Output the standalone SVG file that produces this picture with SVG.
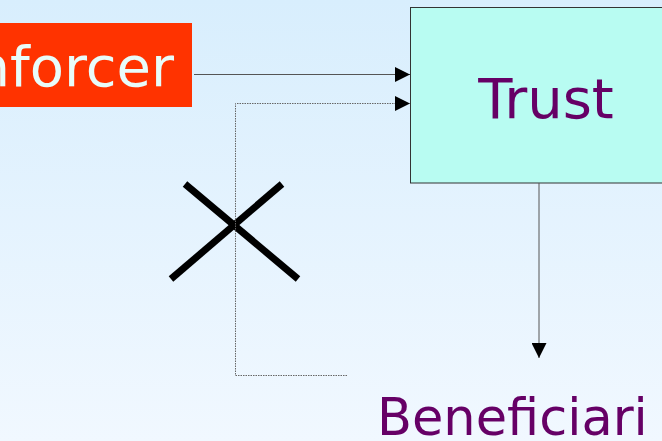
<svg xmlns="http://www.w3.org/2000/svg" width="662" height="441" viewBox="0 0 662 441">
<defs>
<linearGradient id="bg" x1="0" y1="0" x2="0" y2="1">
<stop offset="0" stop-color="#d8eefd"/>
<stop offset="1" stop-color="#f1f8ff"/>
</linearGradient>
<marker id="ah" markerWidth="15" markerHeight="15" refX="15" refY="7.5" orient="auto" markerUnits="userSpaceOnUse">
<path d="M0,0 L15,7.5 L0,15 Z" fill="#000"/>
</marker>
<style>
.lbl{font-family:"DejaVu Sans",Verdana,sans-serif;}
.conn{fill:none;stroke:#555;stroke-width:1;}
.dot{fill:none;stroke:#666;stroke-width:1;stroke-dasharray:1.5,1;}
</style>
</defs>
<rect x="0" y="0" width="662" height="441" fill="url(#bg)"/>
<g id="enforcer">
<rect x="-10" y="23" width="202" height="84" fill="#ff3300"/>
<text class="lbl" x="174" y="86" text-anchor="end" font-size="56" fill="#e8fcfa">Enforcer</text>
</g>
<g id="trust">
<rect x="410.5" y="7.5" width="260" height="175.5" fill="#b8fcf2" stroke="#333" stroke-width="1"/>
<text class="lbl" x="546" y="118" text-anchor="middle" font-size="56" fill="#660066">Trust</text>
</g>
<g id="beneficiari">
<text class="lbl" x="377" y="435" font-size="51" fill="#660066">Beneficiari</text>
</g>
<g id="cross">
<line x1="185" y1="184" x2="298" y2="279" stroke="#000" stroke-width="7"/>
<line x1="282" y1="184" x2="171" y2="279" stroke="#000" stroke-width="7"/>
</g>
<g id="connectors">
<line class="conn" x1="194" y1="74.5" x2="410" y2="74.5" marker-end="url(#ah)"/>
<polyline class="dot" points="347,375.5 235.5,375.5 235.5,103.5 410,103.5" marker-end="url(#ah)"/>
<line class="conn" x1="539" y1="183" x2="539" y2="358" marker-end="url(#ah)"/>
</g>
</svg>
